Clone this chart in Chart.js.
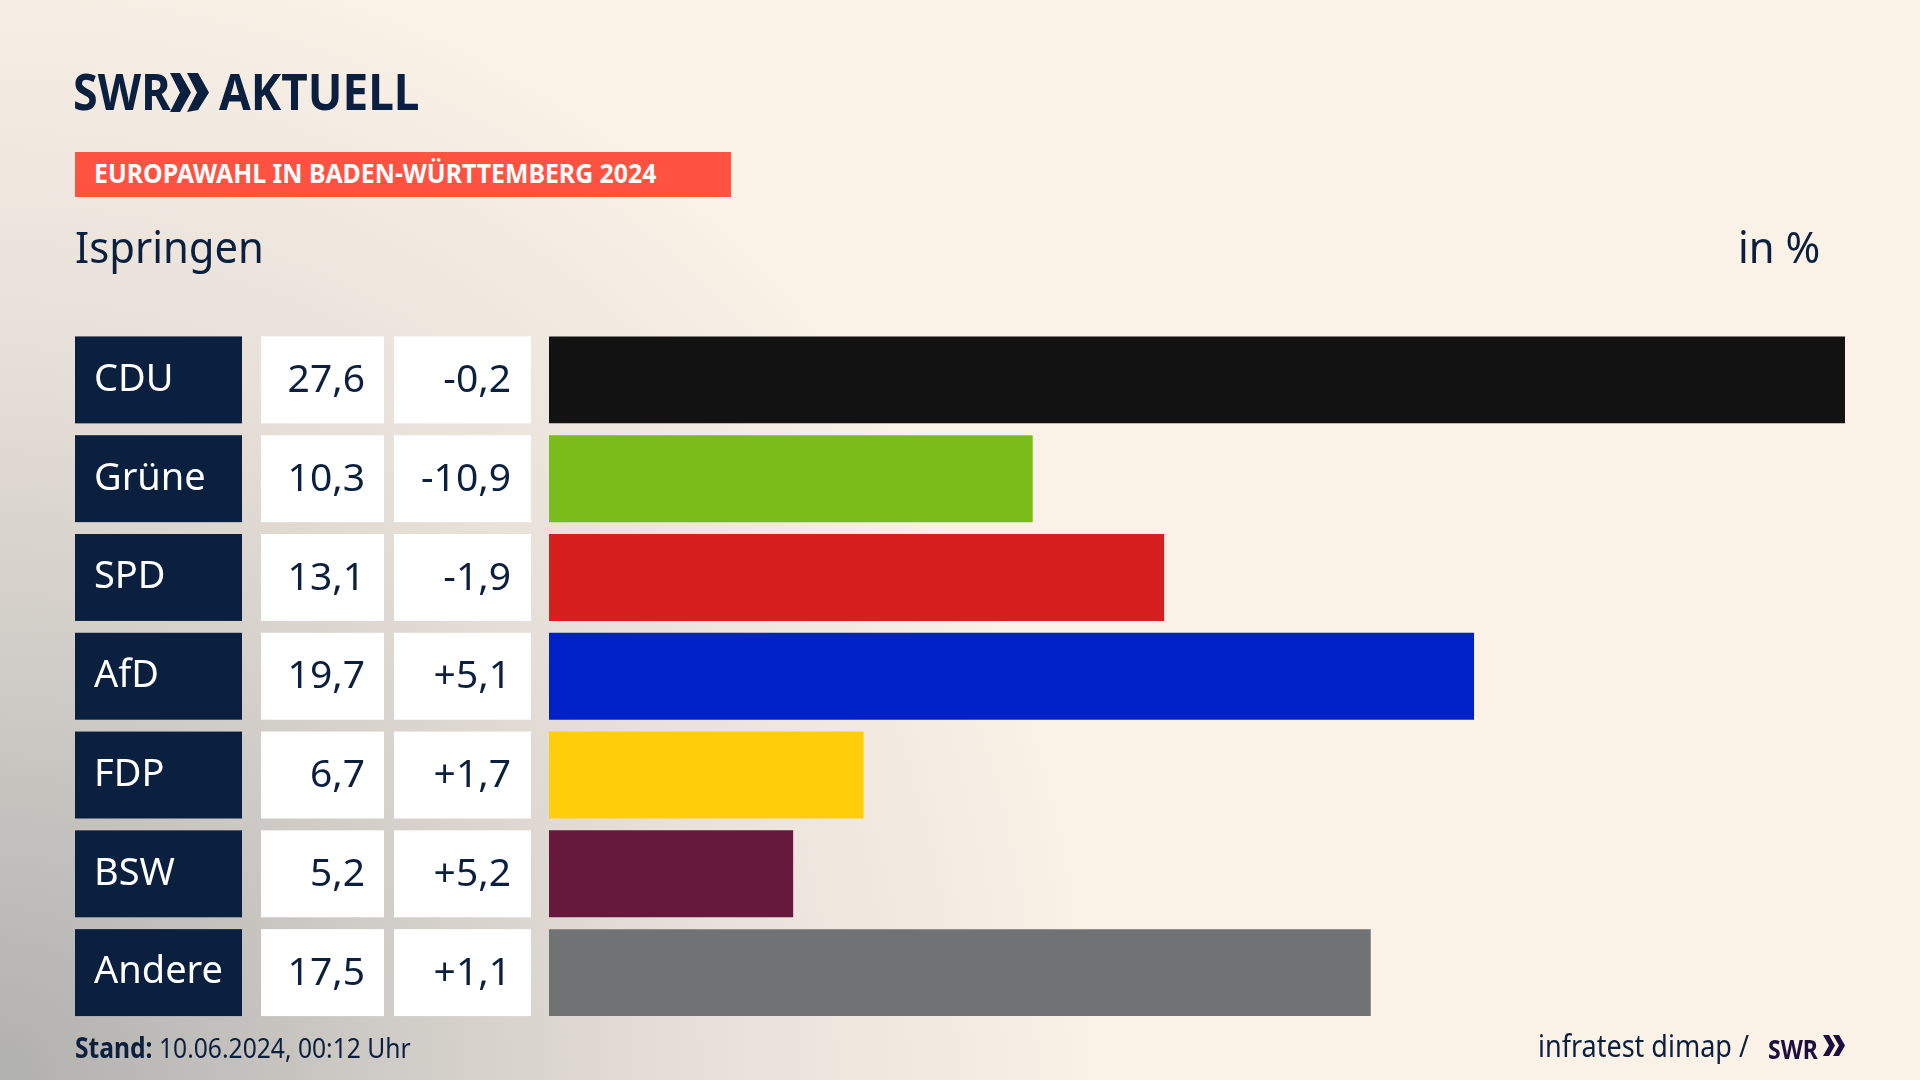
<!DOCTYPE html>
<html lang="de">
<head>
<meta charset="utf-8">
<title>Europawahl Ispringen</title>
<script src="https://cdn.jsdelivr.net/npm/chart.js@4/dist/chart.umd.min.js"></script>
<style>
  html, body { margin: 0; padding: 0; width: 1920px; height: 1080px; overflow: hidden; }
  body {
    position: relative;
    font-family: "Noto Sans", sans-serif;
    color: #0b1f3e;
    background:
      radial-gradient(ellipse 1100px 1150px at 0% 100%, #b0b0ae 0%, #cfcbc6 35%, #e8e1d9 65%, rgba(250,241,231,0) 100%),
      #faf1e7;
  }
  #chart { position: absolute; left: 0; top: 0; }
  .txt { position: absolute; white-space: nowrap; transform-origin: left top; line-height: 1; }
  .logo { font-weight: 700; font-size: 51px; }
  #banner { position: absolute; left: 75px; top: 152px; width: 656px; height: 45px; background: #ff5241; }
  svg { position: absolute; }
</style>
</head>
<body>
<canvas id="chart" width="1920" height="1080"></canvas>

<div class="txt logo" style="left:73px;top:65px;transform:scaleX(.88)">SWR</div>
<svg style="left:170px;top:73px" width="40" height="39" viewBox="0 0 40 39"><path d="M0 0 L10 0 L21 19.5 L10 39 L0 39 L10 19.5 Z M17 0 L28 0 L39 19.5 L28 37 L17 39 L27 19.5 Z" fill="#0b1f3e"/></svg>
<div class="txt logo" style="left:219px;top:65px;transform:scaleX(.9)">AKTUELL</div>

<div id="banner"></div>
<div class="txt" style="left:94px;top:159px;font-size:27px;font-weight:700;color:#fff;transform:scaleX(.92)">EUROPAWAHL IN BADEN-WÜRTTEMBERG 2024</div>

<div class="txt" style="left:75px;top:224px;font-size:44px;transform:scaleX(.95)">Ispringen</div>
<div class="txt" style="left:1738px;top:224px;font-size:44px;transform:scaleX(.95)">in %</div>

<div class="txt" style="left:75px;top:1033px;font-size:28px;transform:scaleX(.88)"><b>Stand:</b> 10.06.2024, 00:12 Uhr</div>
<div class="txt" style="left:1538px;top:1031px;font-size:30px;transform:scaleX(.9)">infratest dimap /</div>
<div class="txt" style="left:1768px;top:1035px;font-size:27px;font-weight:700;color:#1c0f3f;transform:scaleX(.85)">SWR</div>
<svg style="left:1823px;top:1035px" width="22" height="21" viewBox="0 0 22 21"><path d="M0 0 L6 0 L12 10.5 L6 21 L0 21 L6 10.5 Z M10 0 L16 0 L22 10.5 L16 21 L10 21 L16 10.5 Z" fill="#1c0f3f"/></svg>

<script>
const parties = ['CDU', 'Grüne', 'SPD', 'AfD', 'FDP', 'BSW', 'Andere'];
const shares = [27.6, 10.3, 13.1, 19.7, 6.7, 5.2, 17.5];
const changes = [-0.2, -10.9, -1.9, 5.1, 1.7, 5.2, 1.1];
const barColors = ['#121212', '#7abd1a', '#d6201f', '#0021c8', '#ffce0a', '#66193d', '#717274'];

const NAVY = '#0b1f3e';
const FONT = '"Noto Sans", sans-serif';

function fmt(v) {
  return v.toFixed(1).replace('.', ',');
}
function fmtChange(v) {
  return (v > 0 ? '+' : '') + fmt(v);
}

// label boxes and the two white value columns, lined up with the bars
const rowCells = {
  id: 'rowCells',
  beforeDraw(chart) {
    const ctx = chart.ctx;
    const yScale = chart.scales.y;
    const meta = chart.getDatasetMeta(0);
    ctx.save();
    parties.forEach((p, i) => {
      const yc = yScale.getPixelForValue(i);
      const h = meta.data[i].height;
      const top = yc - h / 2;
      ctx.fillStyle = NAVY;
      ctx.fillRect(75, top, 167, h);
      ctx.fillStyle = '#fff';
      ctx.fillRect(261, top, 123, h);
      ctx.fillRect(394, top, 137, h);
    });
    ctx.restore();
  },
  afterDraw(chart) {
    const ctx = chart.ctx;
    const yScale = chart.scales.y;
    ctx.save();
    ctx.font = '39px ' + FONT;
    ctx.fillStyle = NAVY;
    ctx.textAlign = 'right';
    ctx.textBaseline = 'middle';
    parties.forEach((p, i) => {
      const yc = yScale.getPixelForValue(i) + 1;
      ctx.fillText(fmt(shares[i]), 365, yc);
      ctx.fillText(fmtChange(changes[i]), 511, yc);
    });
    ctx.restore();
  }
};

new Chart(document.getElementById('chart'), {
  type: 'bar',
  data: {
    labels: parties,
    datasets: [{
      data: shares,
      backgroundColor: barColors,
      borderWidth: 0,
      barPercentage: 0.88,
      categoryPercentage: 1
    }]
  },
  options: {
    indexAxis: 'y',
    responsive: false,
    animation: false,
    events: [],
    layout: { padding: { left: 94, right: 75, top: 330.5, bottom: 58 } },
    plugins: { legend: { display: false }, tooltip: { enabled: false } },
    scales: {
      x: { display: false, min: 0, max: 27.6 },
      y: {
        afterFit(axis) { axis.width = 455; },
        border: { display: false },
        grid: { display: false, drawTicks: false },
        ticks: {
          crossAlign: 'far',
          color: '#fff',
          padding: 0,
          font: { family: FONT, size: 38 }
        }
      }
    }
  },
  plugins: [rowCells]
});
</script>
</body>
</html>
